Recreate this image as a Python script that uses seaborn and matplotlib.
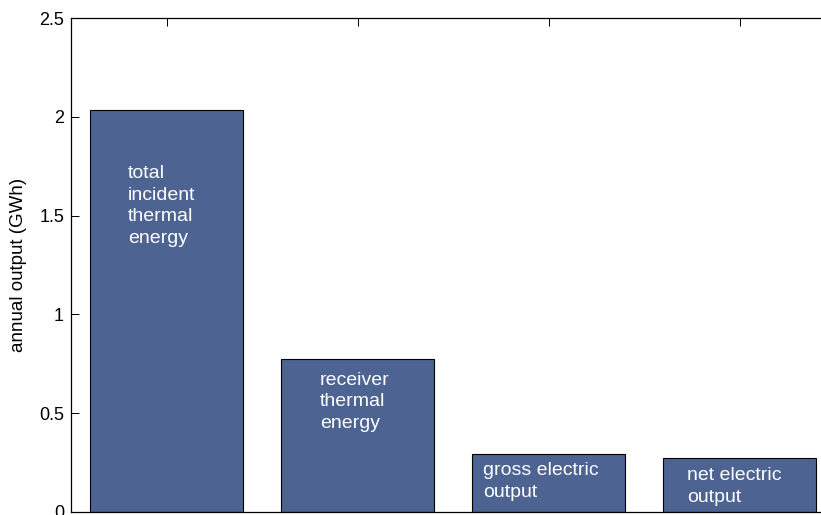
import matplotlib
matplotlib.use("Agg")
import matplotlib.pyplot as plt
import seaborn as sns

# Annual energy flow through the plant (GWh)
categories = ["total incident thermal energy", "receiver thermal energy",
              "gross electric output", "net electric output"]
values = [2.036, 0.774, 0.294, 0.272]
bar_labels = ["total\nincident\nthermal\nenergy", "receiver\nthermal\nenergy",
              "gross electric\noutput", "net electric\noutput"]
y_ticks = [0, 0.5, 1, 1.5, 2, 2.5]
y_tick_labels = ["0", "0.5", "1", "1.5", "2", "2.5"]

# label placement: offset from bar centre, baseline of last line
label_dx = [-0.203, -0.197, -0.342, -0.274]
label_y = [1.360, 0.423, 0.076, 0.051]

sns.set_theme(style="white")
plt.rcParams["font.family"] = ["Liberation Sans", "DejaVu Sans"]

fig = plt.figure(figsize=(8.21, 5.15), dpi=100)
ax = fig.add_axes([71 / 821, 3.3 / 515, 764 / 821, 493.4 / 515])

sns.barplot(x=categories, y=values, color="#4D6391", saturation=1,
            edgecolor="black", linewidth=0.8, width=0.8, ax=ax)

for i, (txt, dx, y) in enumerate(zip(bar_labels, label_dx, label_y)):
    ax.text(i + dx, y, txt, color="white", fontsize=14, ha="left",
            va="baseline", linespacing=1.37)

ax.set_xlim(-0.5, 3.5)
ax.set_ylim(0, 2.5)
ax.set_yticks(y_ticks)
ax.set_yticklabels(y_tick_labels)
ax.set_xticklabels([])
ax.set_xlabel("")
ax.set_ylabel("annual output (GWh)", fontsize=13.5, color="black", labelpad=9)

for side in ["left", "right", "top", "bottom"]:
    ax.spines[side].set_visible(True)
    ax.spines[side].set_color("black")
    ax.spines[side].set_linewidth(0.9)

ax.tick_params(axis="both", which="both", direction="in", length=5.8,
               width=0.7, color="black", labelsize=13, labelcolor="black",
               pad=5, top=True, right=True, left=True, bottom=True)

fig.savefig("out.png", dpi=100)
